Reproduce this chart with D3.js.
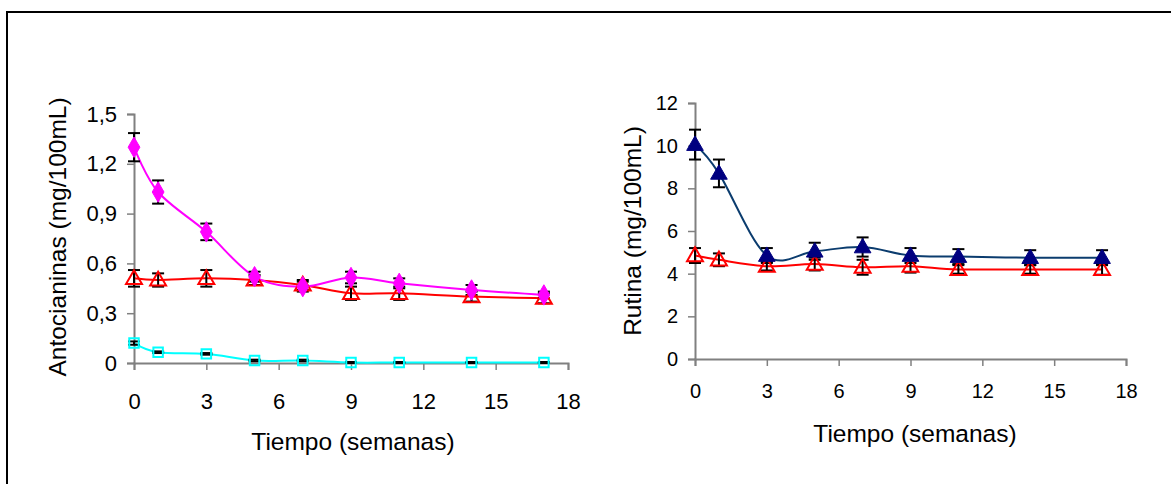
<!DOCTYPE html>
<html><head><meta charset="utf-8">
<script src="https://cdn.jsdelivr.net/npm/d3@7"></script>
<style>body{margin:0;background:#fff}svg{display:block;font-family:"Liberation Sans",Arial,sans-serif}</style>
</head><body>
<svg id="c" width="1171" height="484"></svg>
<script>
// ---- data ----
const weeks = [0, 1, 3, 5, 7, 9, 11, 14, 17];
const xTicks = [0, 3, 6, 9, 12, 15, 18];

// Antocianinas (mg/100mL)
const antoMagenta = [1.30, 1.03, 0.79, 0.52, 0.46, 0.515, 0.48, 0.44, 0.41];
const antoMagentaErr = [0.085, 0.07, 0.05, 0.03, 0.03, 0.035, 0.03, 0.03, 0.02];
const antoRed = [0.51, 0.50, 0.51, 0.50, 0.47, 0.42, 0.42, 0.40, 0.39];
const antoRedErr = [0.05, 0.04, 0.05, 0.03, 0.03, 0.04, 0.04, 0.03, 0.03];
const antoCyan = [0.12, 0.065, 0.055, 0.015, 0.015, 0.003, 0.003, 0.003, 0.003];
const antoCyanErr = [0.01, 0.005, 0.005, 0.005, 0.005, 0.003, 0.003, 0.003, 0.003];
const antoTicks = [0, 0.3, 0.6, 0.9, 1.2, 1.5];

// Rutina (mg/100mL)
const rutBlue = [10.05, 8.7, 4.85, 5.05, 5.25, 4.85, 4.8, 4.75, 4.75];
const rutBlueErr = [0.7, 0.65, 0.35, 0.4, 0.45, 0.35, 0.35, 0.35, 0.35];
const rutRed = [4.85, 4.65, 4.35, 4.45, 4.3, 4.35, 4.2, 4.2, 4.2];
const rutRedErr = [0.35, 0.3, 0.2, 0.3, 0.35, 0.3, 0.2, 0.2, 0.25];
const rutTicks = [0, 2, 4, 6, 8, 10, 12];

const svg = d3.select("#c");
// outer frame
svg.append("rect").attr("x", 7).attr("y", 12).attr("width", 1175).attr("height", 490)
  .attr("fill", "none").attr("stroke", "#000").attr("stroke-width", 2);

const fmt = d => String(d).replace(".", ",");

function panel(o) {
  const g = svg.append("g");
  const x = d3.scaleLinear().domain([0, 18]).range([o.x0, o.x1]);
  const y = d3.scaleLinear().domain([0, o.ymax]).range([o.y0, o.y1]);

  const ya = g.append("g").attr("transform", `translate(${o.x0},0)`)
    .call(d3.axisLeft(y).tickValues(o.yticks).tickFormat(fmt).tickSize(7).tickPadding(o.ypad));
  const xa = g.append("g").attr("transform", `translate(0,${o.y0})`)
    .call(d3.axisBottom(x).tickValues(xTicks).tickSize(7).tickPadding(o.xpad));
  [ya, xa].forEach(a => {
    a.select(".domain").attr("stroke", "#808080").attr("stroke-width", 2);
    a.selectAll(".tick line").attr("stroke", "#808080").attr("stroke-width", 1.5);
    a.selectAll("text").attr("fill", "#000").style("font-size", o.tickFs + "px")
      .style("font-family", '"Liberation Sans",Arial,sans-serif');
  });

  g.append("text").attr("transform", `translate(${o.ytX},${o.ytY}) rotate(-90)`)
    .attr("text-anchor", "middle").attr("dominant-baseline", "central")
    .style("font-size", o.titleFs + "px").text(o.ytitle);
  g.append("text").attr("x", o.xtX).attr("y", o.xtY)
    .attr("text-anchor", "middle").attr("dominant-baseline", "central")
    .style("font-size", o.titleFs + "px").text("Tiempo (semanas)");

  const line = d3.line().x((d, i) => x(weeks[i])).y(d => y(d)).curve(d3.curveCatmullRom.alpha(0));

  o.series.forEach(s => {
    g.append("path").datum(s.v).attr("d", line).attr("fill", "none")
      .attr("stroke", s.line).attr("stroke-width", 2);
  });
  o.series.forEach(s => {
    const eb = g.append("g").attr("stroke", "#000").attr("stroke-width", 2);
    s.v.forEach((v, i) => {
      const cx = x(weeks[i]), t = y(v + s.e[i]), b = y(v - s.e[i]);
      eb.append("line").attr("x1", cx).attr("x2", cx).attr("y1", t).attr("y2", b);
      eb.append("line").attr("x1", cx - 6).attr("x2", cx + 6).attr("y1", t).attr("y2", t);
      eb.append("line").attr("x1", cx - 6).attr("x2", cx + 6).attr("y1", b).attr("y2", b);
    });
  });
  o.series.forEach(s => {
    const sym = d3.symbol().type(s.shape).size(s.size);
    g.append("g").selectAll("path").data(s.v).join("path")
      .attr("transform", (d, i) => `translate(${x(weeks[i])},${y(d) + (s.dy || 0)})`)
      .attr("d", sym)
      .attr("fill", s.fill).attr("stroke", s.stroke).attr("stroke-width", s.sw);
  });
}

panel({
  x0: 134, x1: 568, y0: 363, y1: 114, ymax: 1.5, yticks: antoTicks,
  tickFs: 22, titleFs: 24.5, ypad: 10, xpad: 23,
  ytitle: "Antocianinas (mg/100mL)", ytX: 57, ytY: 237, xtX: 353, xtY: 441,
  series: [
    {v: antoCyan, e: antoCyanErr, line: "#00FFFF", shape: d3.symbolSquare, size: 90, fill: "none", stroke: "#00FFFF", sw: 2},
    {v: antoRed, e: antoRedErr, line: "#FF0000", shape: d3.symbolTriangle, size: 110, fill: "none", stroke: "#FF0000", sw: 2, dy: 1},
    {v: antoMagenta, e: antoMagentaErr, line: "#FF00FF", shape: d3.symbolDiamond, size: 120, fill: "#FF00FF", stroke: "#FF00FF", sw: 1}
  ]
});

panel({
  x0: 695, x1: 1126, y0: 359, y1: 103, ymax: 12, yticks: rutTicks,
  tickFs: 20, titleFs: 24.5, ypad: 10, xpad: 18,
  ytitle: "Rutina (mg/100mL)", ytX: 632, ytY: 231, xtX: 915, xtY: 433,
  series: [
    {v: rutRed, e: rutRedErr, line: "#FF0000", shape: d3.symbolTriangle, size: 110, fill: "none", stroke: "#FF0000", sw: 2, dy: 1},
    {v: rutBlue, e: rutBlueErr, line: "#0B3C6E", shape: d3.symbolTriangle, size: 120, fill: "#000080", stroke: "#000080", sw: 1, dy: 1}
  ]
});
</script>
</body></html>
